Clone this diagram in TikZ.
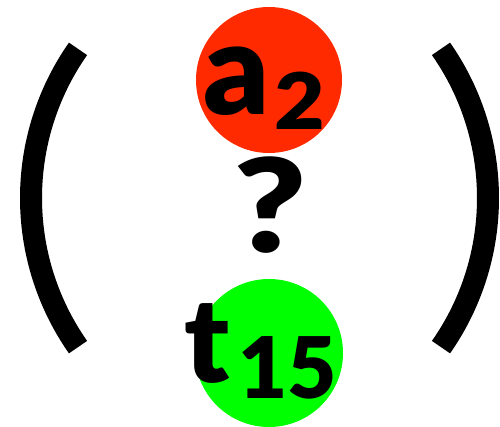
\documentclass[tikz,border=0pt]{standalone}
\usepackage{fontspec}
\setmainfont{Lato}[BoldFont={Lato Black}]
\definecolor{myred}{RGB}{255,42,0}
\definecolor{mygreen}{RGB}{0,255,0}
\tikzset{
  paren/.style={line width=22pt, line cap=butt},
  ball/.style={circle, inner sep=0pt, minimum size=#1},
  txt/.style={anchor=base west, inner sep=0pt, font=\bfseries\fontsize{#1}{#1}\selectfont},
}
\begin{document}
\begin{tikzpicture}[x=1pt,y=-1pt]
\useasboundingbox (0,0) rectangle (500,427);
\node[ball=146pt, fill=myred] (r) at (269,80) {};
\node[ball=148pt, fill=mygreen] (g) at (269,353) {};
\draw[paren] (291,198) ++(145:260) arc[start angle=145, end angle=215, radius=260];
\draw[paren] (228,198) ++(-35:260) arc[start angle=-35, end angle=35, radius=260];
\node[txt=128] (a) at (203,115) {a};
\node[txt=78, xscale=1.12] (two) at (274,130) {2};
\node[txt=118] (t) at (184,382) {t};
\node[txt=85] (ff) at (238,398) {15};
\node[txt=130, anchor=base, xscale=1.2] (q) at (270,253) {?};
\end{tikzpicture}
\end{document}
